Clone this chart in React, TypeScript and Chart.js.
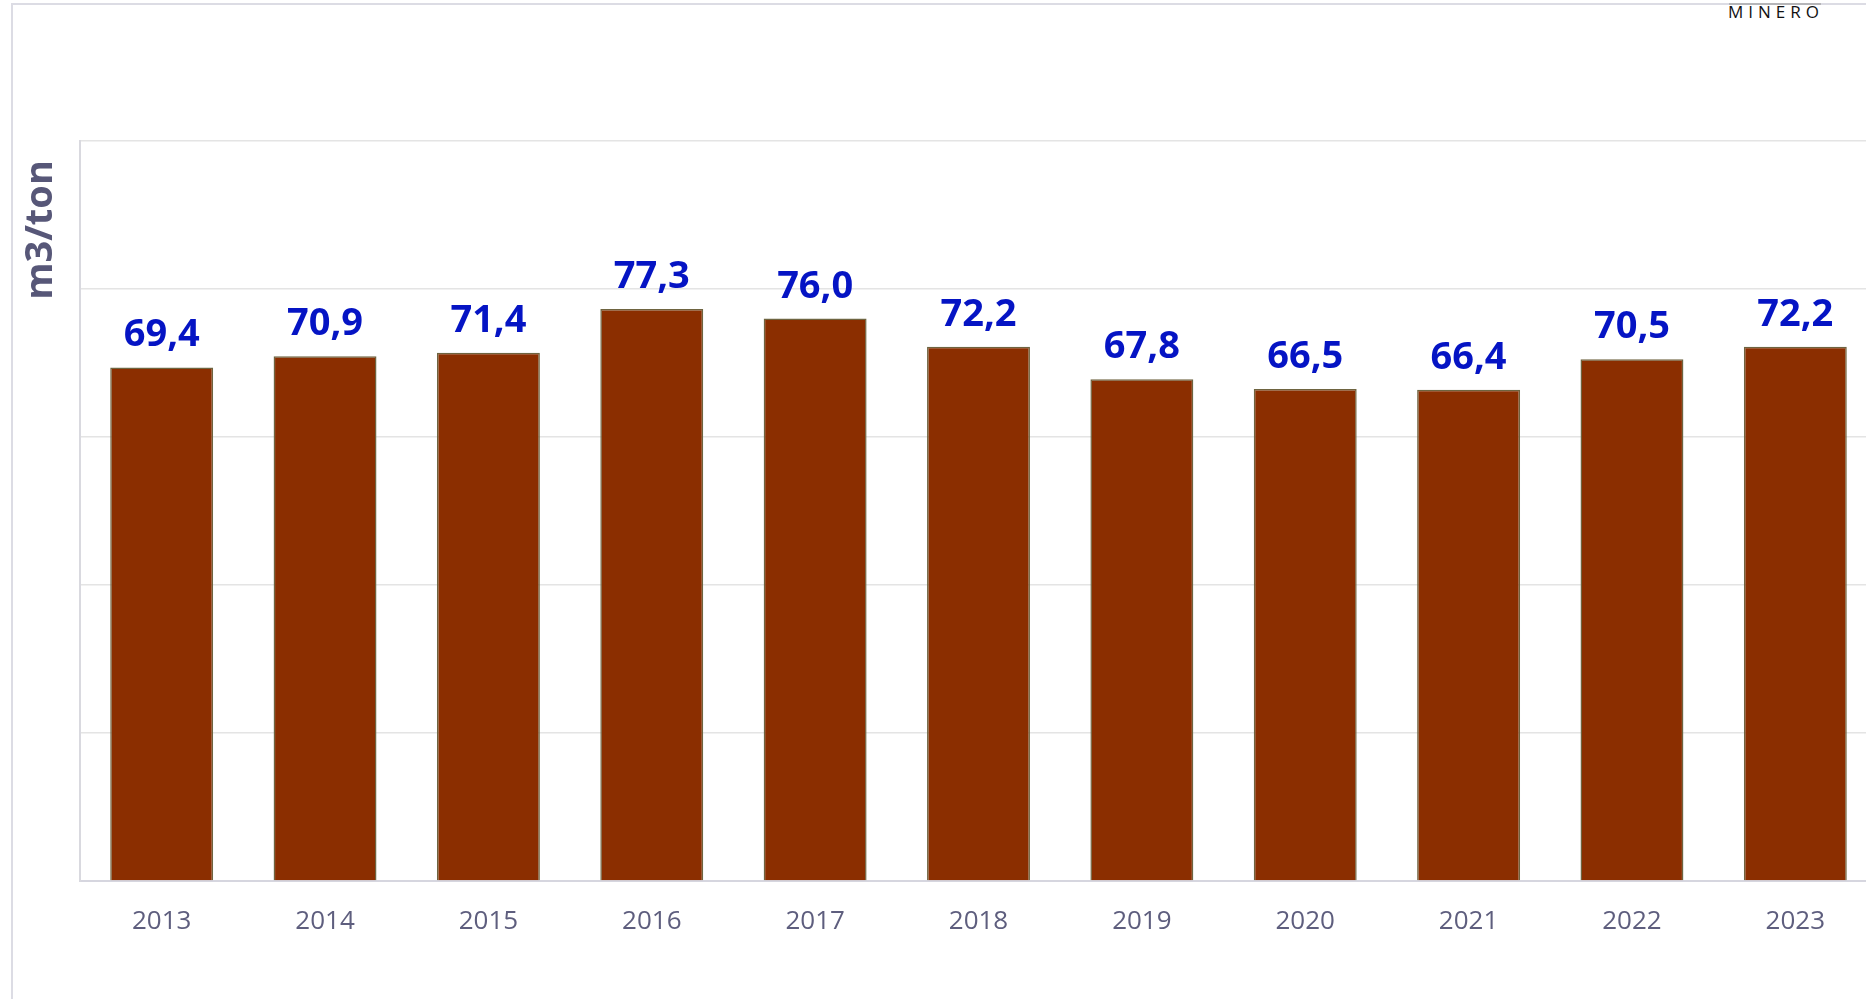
import React, { useEffect, useRef } from "react";
import { Chart, registerables } from "chart.js";

Chart.register(...registerables);

const years: string[] = ["2013", "2014", "2015", "2016", "2017", "2018", "2019", "2020", "2021", "2022", "2023"];
const values: number[] = [69.4, 70.9, 71.4, 77.3, 76.0, 72.2, 67.8, 66.5, 66.4, 70.5, 72.2];
const yTitle = "m3/ton";
const logoText = "MINERO";

const CANVAS_W = 1877;
const CANVAS_H = 999;

const labelPlugin = {
  id: "barLabels",
  afterDatasetsDraw(chart: any) {
    const ctx = chart.ctx;
    const meta = chart.getDatasetMeta(0);
    ctx.save();
    ctx.font = "bold 38px 'Open Sans'";
    ctx.fillStyle = "#0514C4";
    ctx.textAlign = "center";
    ctx.textBaseline = "alphabetic";
    meta.data.forEach((bar: any, i: number) => {
      const txt = values[i].toFixed(1).replace(".", ",");
      ctx.fillText(txt, bar.x, bar.y - 21);
    });
    ctx.restore();
  },
};

const titlePlugin = {
  id: "yTitle",
  afterDraw(chart: any) {
    const ctx = chart.ctx;
    ctx.save();
    ctx.translate(41, 230);
    ctx.rotate(-Math.PI / 2);
    ctx.font = "bold 38px 'Open Sans'";
    ctx.fillStyle = "#575778";
    ctx.textAlign = "center";
    ctx.textBaseline = "middle";
    ctx.fillText(yTitle, 0, 0);
    ctx.restore();
  },
};

export default function App() {
  const ref = useRef<HTMLCanvasElement | null>(null);

  useEffect(() => {
    if (!ref.current) return;
    const chart = new Chart(ref.current, {
      type: "bar",
      data: {
        labels: years,
        datasets: [
          {
            data: values,
            backgroundColor: "#8B2E00",
            borderColor: "#6E6440",
            borderWidth: 1.5,
            barPercentage: 0.63,
            categoryPercentage: 1,
          },
        ],
      },
      options: {
        responsive: false,
        animation: false,
        layout: { padding: { top: 141, left: 0, right: 0, bottom: 0 } },
        plugins: {
          legend: { display: false },
          tooltip: { enabled: false },
        },
        scales: {
          x: {
            grid: { display: false, drawTicks: false },
            border: { display: true, color: "#D6D6DF", width: 2 },
            ticks: {
              color: "#5E5E7E",
              font: { family: "'Open Sans'", size: 26 },
              padding: 25,
            },
            afterFit: (s: any) => {
              s.height = 118;
            },
          },
          y: {
            min: 0,
            max: 100,
            ticks: { display: false, stepSize: 20 },
            grid: { color: "#E4E4E4", lineWidth: 1.5, drawTicks: false },
            border: { display: true, color: "#D9D9DF", width: 2 },
            afterFit: (s: any) => {
              s.width = 80;
            },
          },
        },
      },
      plugins: [labelPlugin, titlePlugin],
    });
    return () => chart.destroy();
  }, []);

  return (
    <div
      style={{
        position: "fixed",
        left: 0,
        top: 0,
        width: 1866,
        height: 999,
        overflow: "hidden",
        background: "#fff",
      }}
    >
      <div
        style={{
          position: "absolute",
          left: 11,
          top: 3,
          width: 2000,
          height: 2000,
          border: "2px solid #DCDCE4",
          boxSizing: "border-box",
        }}
      />
      <div
        style={{
          position: "absolute",
          left: 1729,
          top: 3,
          width: 92,
          height: 2,
          background: "#B5B5B8",
        }}
      />
      <div
        style={{
          position: "absolute",
          left: 1728,
          top: 0,
          fontFamily: "'Open Sans'",
          fontWeight: 400,
          fontSize: 17,
          letterSpacing: 5,
          color: "#111",
          lineHeight: "24px",
          whiteSpace: "nowrap",
        }}
      >
        {logoText}
      </div>
      <canvas
        ref={ref}
        width={CANVAS_W}
        height={CANVAS_H}
        style={{ position: "absolute", left: 0, top: 0, width: CANVAS_W, height: CANVAS_H }}
      />
    </div>
  );
}
